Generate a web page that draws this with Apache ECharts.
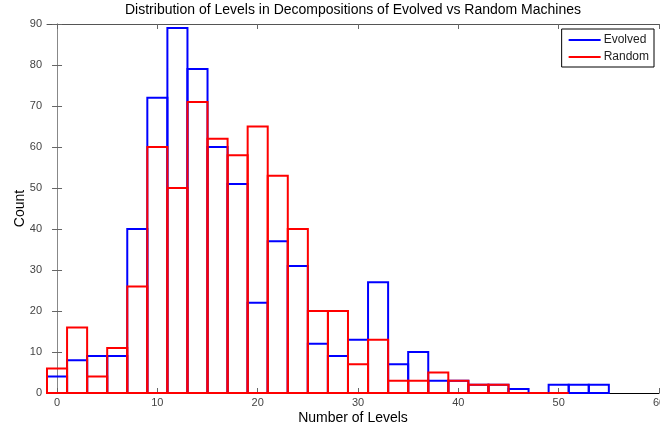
<!DOCTYPE html>
<html>
<head>
<meta charset="utf-8">
<script src="https://cdn.jsdelivr.net/npm/echarts@6/dist/echarts.min.js"></script>
<style>
  html, body { margin: 0; padding: 0; background: #fff; }
  #chart { width: 660px; height: 427px; }
</style>
</head>
<body>
<div id="chart"></div>
<script>
// histogram bins (width 2, centred on even numbers)
var binWidth = 2;
var binCenters = [0, 2, 4, 6, 8, 10, 12, 14, 16, 18, 20, 22, 24, 26, 28,
                  30, 32, 34, 36, 38, 40, 42, 44, 46, 48, 50, 52, 54];
var evolved = [4, 8, 9, 9, 40, 72, 89, 79, 60, 51, 22, 37, 31, 12, 9,
               13, 27, 7, 10, 3, 3, 2, 2, 1, 0, 2, 2, 2];
var random = [6, 16, 4, 11, 26, 60, 50, 71, 62, 58, 65, 53, 40, 20, 20,
              7, 13, 3, 3, 5, 3, 2, 2, 0, 0, 0];
var xTicks = [0, 10, 20, 30, 40, 50, 60];

function toPairs(vals) {
    return vals.map(function (v, i) { return [binCenters[i], v]; });
}

function histRender(color) {
    return function (params, api) {
        var c = api.value(0), v = api.value(1);
        var p0 = api.coord([c - binWidth / 2, v]);
        var p1 = api.coord([c + binWidth / 2, 0]);
        return {
            type: 'rect',
            shape: { x: p0[0], y: p0[1], width: p1[0] - p0[0], height: p1[1] - p0[1] },
            style: { fill: 'none', stroke: color, lineWidth: 2 }
        };
    };
}

var myChart = echarts.init(document.getElementById('chart'));
var font = 'Liberation Sans, Arial, sans-serif';
var option = {
    animation: false,
    textStyle: { fontFamily: font },
    title: {
        text: 'Distribution of Levels in Decompositions of Evolved vs Random Machines',
        left: 353, top: 3, padding: 0, textAlign: 'center',
        textStyle: { fontSize: 14, fontWeight: 'normal', color: '#000', fontFamily: font }
    },
    legend: {
        orient: 'vertical',
        right: 6, top: 29,
        backgroundColor: '#fff',
        borderColor: '#000', borderWidth: 1, borderRadius: 0,
        padding: [5, 5, 4, 7],
        itemGap: 5,
        itemWidth: 32, itemHeight: 2,
        icon: 'rect',
        textStyle: { fontSize: 12, color: '#222', padding: [0, 0, 0, -2] },
        data: ['Evolved', 'Random']
    },
    grid: { left: 47, right: 1, top: 24, bottom: 34, outerBoundsMode: 'none', containLabel: false },
    xAxis: [{
        type: 'value', min: -1, max: 60,
        name: 'Number of Levels', nameLocation: 'middle', nameGap: 18, nameMoveOverlap: false,
        nameTextStyle: { fontSize: 14, color: '#000' },
        axisLine: { onZero: false, lineStyle: { color: '#000', width: 1 } },
        axisTick: { inside: true, length: 5, customValues: xTicks, lineStyle: { color: '#666' } },
        axisLabel: { customValues: xTicks, fontSize: 11, color: '#444', margin: 4 },
        splitLine: { show: false }
    }, {
        type: 'value', min: -1, max: 60, position: 'top',
        axisLine: { onZero: false, lineStyle: { color: '#555' } },
        axisTick: { inside: true, length: 5, customValues: xTicks, lineStyle: { color: '#666' } },
        axisLabel: { show: false },
        splitLine: { show: false }
    }],
    yAxis: [{
        type: 'value', min: 0, max: 90, interval: 10,
        name: 'Count', nameLocation: 'middle', nameGap: 20, nameMoveOverlap: false,
        nameTextStyle: { fontSize: 14, color: '#000' },
        axisLine: { show: true, lineStyle: { color: '#888' } },
        axisTick: { show: true, inside: true, length: 5, lineStyle: { color: '#666' } },
        axisLabel: { fontSize: 11, color: '#444', margin: 5 },
        splitLine: { show: false }
    }, {
        type: 'value', min: 0, max: 90, interval: 10, position: 'right',
        axisLine: { show: true, lineStyle: { color: '#888' } },
        axisTick: { show: true, inside: true, length: 5, lineStyle: { color: '#666' } },
        axisLabel: { show: false },
        splitLine: { show: false }
    }],
    series: [{
        name: 'Evolved', type: 'custom', z: 5, clip: false,
        itemStyle: { color: '#0000ff' },
        renderItem: histRender('#0000ff'),
        encode: { x: 0, y: 1 },
        data: toPairs(evolved)
    }, {
        name: 'Random', type: 'custom', z: 6, clip: false,
        itemStyle: { color: '#ff0000' },
        renderItem: histRender('#ff0000'),
        encode: { x: 0, y: 1 },
        data: toPairs(random)
    }]
};
myChart.setOption(option);
</script>
</body>
</html>
